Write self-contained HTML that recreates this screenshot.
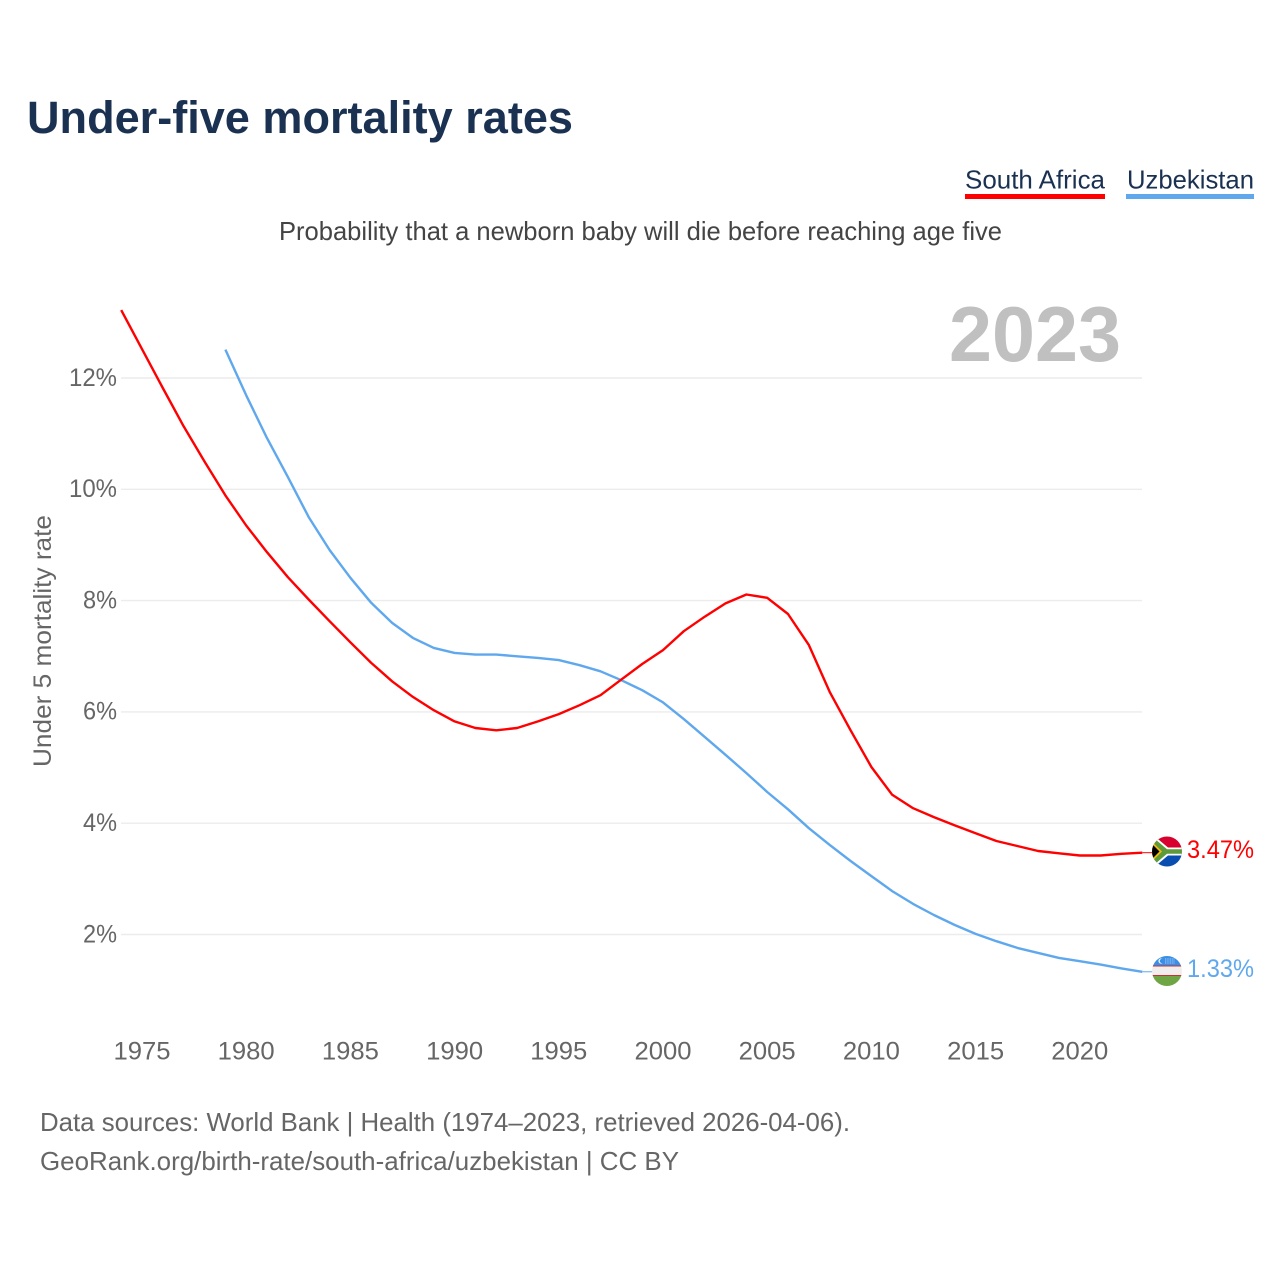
<!DOCTYPE html>
<html lang="en">
<head>
<meta charset="utf-8">
<title>Under-five mortality rates</title>
<style>
  html, body { margin: 0; padding: 0; background: #fff; }
  svg { display: block; font-family: "Liberation Sans", sans-serif; }
</style>
</head>
<body>
<svg id="chart" xmlns="http://www.w3.org/2000/svg" width="1280" height="1280" viewBox="0 0 1280 1280">
  <rect width="1280" height="1280" fill="#fff"/>
  <text x="27" y="133" font-size="45" font-weight="700" fill="#1a3152" textLength="546" lengthAdjust="spacingAndGlyphs">Under-five mortality rates</text>

  <g>
    <text x="965" y="188.5" font-size="26" fill="#1a3152" textLength="140" lengthAdjust="spacingAndGlyphs">South Africa</text>
    <rect x="965" y="194" width="140" height="5" fill="#ff0000"/>
  </g>
  <g>
    <text x="1127" y="188.5" font-size="26" fill="#1a3152" textLength="127" lengthAdjust="spacingAndGlyphs">Uzbekistan</text>
    <rect x="1126" y="194" width="128" height="5" fill="#5fa8ee"/>
  </g>

  <text x="279" y="240" font-size="26" fill="#444" textLength="723" lengthAdjust="spacingAndGlyphs">Probability that a newborn baby will die before reaching age five</text>
  <text x="949" y="361" font-size="78" font-weight="700" fill="#c0c0c0" textLength="172" lengthAdjust="spacingAndGlyphs">2023</text>
  <text transform="translate(51,767) rotate(-90)" font-size="25" fill="#666" textLength="252" lengthAdjust="spacingAndGlyphs">Under 5 mortality rate</text>

  <g id="grid"></g>
  <g id="yticks"></g>
  <g id="xticks"></g>
  <g id="series"></g>

  <defs>
    <clipPath id="clip-za"><circle cx="1167" cy="851.5" r="15"/></clipPath>
    <clipPath id="clip-uz"><circle cx="1167" cy="971" r="15"/></clipPath>
  </defs>

  <g clip-path="url(#clip-za)">
    <rect x="1152" y="836" width="30" height="16" fill="#d7002f"/>
    <rect x="1152" y="852" width="30" height="16" fill="#0a4fb0"/>
    <path d="M1152 834 L1168 847.5 L1182 847.5 L1182 855.5 L1168 855.5 L1152 869 Z" fill="#fff"/>
    <path d="M1152 836.5 L1167 849.2 L1182 849.2 L1182 853.8 L1167 853.8 L1152 866.5 Z" fill="#5f9a3a"/>
    <path d="M1152 841.5 L1162 851.5 L1152 861.5 Z" fill="#f2b90f"/>
    <path d="M1152 844 L1159.5 851.5 L1152 859 Z" fill="#000"/>
  </g>
  <g clip-path="url(#clip-uz)">
    <rect x="1152" y="956" width="30" height="10" fill="#3a8ee6"/>
    <rect x="1152" y="966" width="30" height="10" fill="#f1eeee"/>
    <rect x="1152" y="976" width="30" height="11" fill="#6fa544"/>
    <rect x="1152" y="965.5" width="30" height="1" fill="#c8313a"/>
    <rect x="1152" y="975" width="30" height="1" fill="#c8313a"/>
    <circle cx="1161" cy="961" r="2.6" fill="#e8f2fc"/>
    <circle cx="1162" cy="961" r="2.2" fill="#3a8ee6"/>
    <path d="M1165 959 H1175 M1165 961 H1175 M1165 963 H1175" stroke="#cfe4fa" stroke-width="0.8" stroke-dasharray="1 0.7"/>
  </g>

  <text x="1187" y="858" font-size="25" fill="#ff0000" textLength="67" lengthAdjust="spacingAndGlyphs">3.47%</text>
  <text x="1187" y="977" font-size="25" fill="#5fa8ee" textLength="67" lengthAdjust="spacingAndGlyphs">1.33%</text>

  <text x="40" y="1131" font-size="26" fill="#666" textLength="810" lengthAdjust="spacingAndGlyphs">Data sources: World Bank | Health (1974–2023, retrieved 2026-04-06).</text>
  <text x="40" y="1170" font-size="26" fill="#666" textLength="639" lengthAdjust="spacingAndGlyphs">GeoRank.org/birth-rate/south-africa/uzbekistan | CC BY</text>
</svg>
<script>
const southAfricaStartYear = 1974;
const uzbekistanStartYear = 1979;
const southAfricaValues = [13.22,12.52,11.82,11.13,10.50,9.89,9.35,8.87,8.42,8.02,7.63,7.25,6.88,6.55,6.27,6.03,5.83,5.71,5.67,5.71,5.83,5.96,6.12,6.30,6.58,6.86,7.11,7.45,7.71,7.95,8.11,8.05,7.76,7.20,6.36,5.67,5.01,4.51,4.27,4.11,3.96,3.82,3.68,3.59,3.50,3.46,3.42,3.42,3.45,3.47];
const uzbekistanValues = [12.51,11.69,10.92,10.22,9.50,8.91,8.41,7.96,7.60,7.33,7.15,7.06,7.03,7.03,7.00,6.97,6.93,6.84,6.73,6.57,6.39,6.17,5.87,5.55,5.23,4.90,4.56,4.25,3.91,3.61,3.32,3.05,2.78,2.55,2.35,2.17,2.01,1.88,1.76,1.67,1.58,1.52,1.46,1.39,1.33];
const yTickValues = [2,4,6,8,10,12];
const yTickLabels = ['2%','4%','6%','8%','10%','12%'];
const xTickYears = [1975,1980,1985,1990,1995,2000,2005,2010,2015,2020];

const SVG_NS = 'http://www.w3.org/2000/svg';
const xScale = year => 142 + (year - 1975) * 20.84;
const yScale = value => 1045.8 - value * 55.65;

const gridGroup = document.getElementById('grid');
const yTickGroup = document.getElementById('yticks');
const xTickGroup = document.getElementById('xticks');
const seriesGroup = document.getElementById('series');

yTickValues.forEach((value, i) => {
  const line = document.createElementNS(SVG_NS, 'line');
  
  
  line.setAttribute('x1', 121);
  line.setAttribute('x2', 1142);
  line.setAttribute('y1', yScale(value));
  line.setAttribute('y2', yScale(value));
  line.setAttribute('stroke', '#ececec');
  line.setAttribute('stroke-width', 1.4);
  gridGroup.appendChild(line);

  const label = document.createElementNS(SVG_NS, 'text');
  
  
  label.setAttribute('x', 117);
  label.setAttribute('y', yScale(value) + 7.8);
  label.setAttribute('text-anchor', 'end');
  label.setAttribute('font-size', 25);
  label.setAttribute('fill', '#666');
  label.setAttribute('textLength', yTickLabels[i].length === 3 ? 48 : 34);
  label.setAttribute('lengthAdjust', 'spacingAndGlyphs');
  label.textContent = yTickLabels[i];
  yTickGroup.appendChild(label);
});

xTickYears.forEach(year => {
  const label = document.createElementNS(SVG_NS, 'text');
  
  
  label.setAttribute('x', xScale(year) - 28.5);
  label.setAttribute('y', 1059.3);
  label.setAttribute('font-size', 25);
  label.setAttribute('fill', '#666');
  label.setAttribute('textLength', 57);
  label.setAttribute('lengthAdjust', 'spacingAndGlyphs');
  label.textContent = String(year);
  xTickGroup.appendChild(label);
});

function seriesPoints(startYear, values) {
  return values.map((v, i) => xScale(startYear + i).toFixed(1) + ',' + yScale(v).toFixed(1)).join(' ');
}

const uzLine = document.createElementNS(SVG_NS, 'polyline');


uzLine.setAttribute('points', seriesPoints(uzbekistanStartYear, uzbekistanValues));
uzLine.setAttribute('fill', 'none');
uzLine.setAttribute('stroke', '#5fa8ee');
uzLine.setAttribute('stroke-width', 2.4);
uzLine.setAttribute('stroke-linejoin', 'round');
seriesGroup.appendChild(uzLine);

const zaLine = document.createElementNS(SVG_NS, 'polyline');


zaLine.setAttribute('points', seriesPoints(southAfricaStartYear, southAfricaValues));
zaLine.setAttribute('fill', 'none');
zaLine.setAttribute('stroke', '#ff0000');
zaLine.setAttribute('stroke-width', 2.4);
zaLine.setAttribute('stroke-linejoin', 'round');
seriesGroup.appendChild(zaLine);

const zaLeader = document.createElementNS(SVG_NS, 'line');


zaLeader.setAttribute('x1', xScale(2023));
zaLeader.setAttribute('x2', 1153);
zaLeader.setAttribute('y1', yScale(southAfricaValues[southAfricaValues.length - 1]));
zaLeader.setAttribute('y2', yScale(southAfricaValues[southAfricaValues.length - 1]));
zaLeader.setAttribute('stroke', '#ff0000');
zaLeader.setAttribute('stroke-width', 1);
seriesGroup.appendChild(zaLeader);

const uzLeader = document.createElementNS(SVG_NS, 'line');


uzLeader.setAttribute('x1', xScale(2023));
uzLeader.setAttribute('x2', 1153);
uzLeader.setAttribute('y1', yScale(uzbekistanValues[uzbekistanValues.length - 1]));
uzLeader.setAttribute('y2', yScale(uzbekistanValues[uzbekistanValues.length - 1]));
uzLeader.setAttribute('stroke', '#5fa8ee');
uzLeader.setAttribute('stroke-width', 1);
seriesGroup.appendChild(uzLeader);
</script>
</body>
</html>
